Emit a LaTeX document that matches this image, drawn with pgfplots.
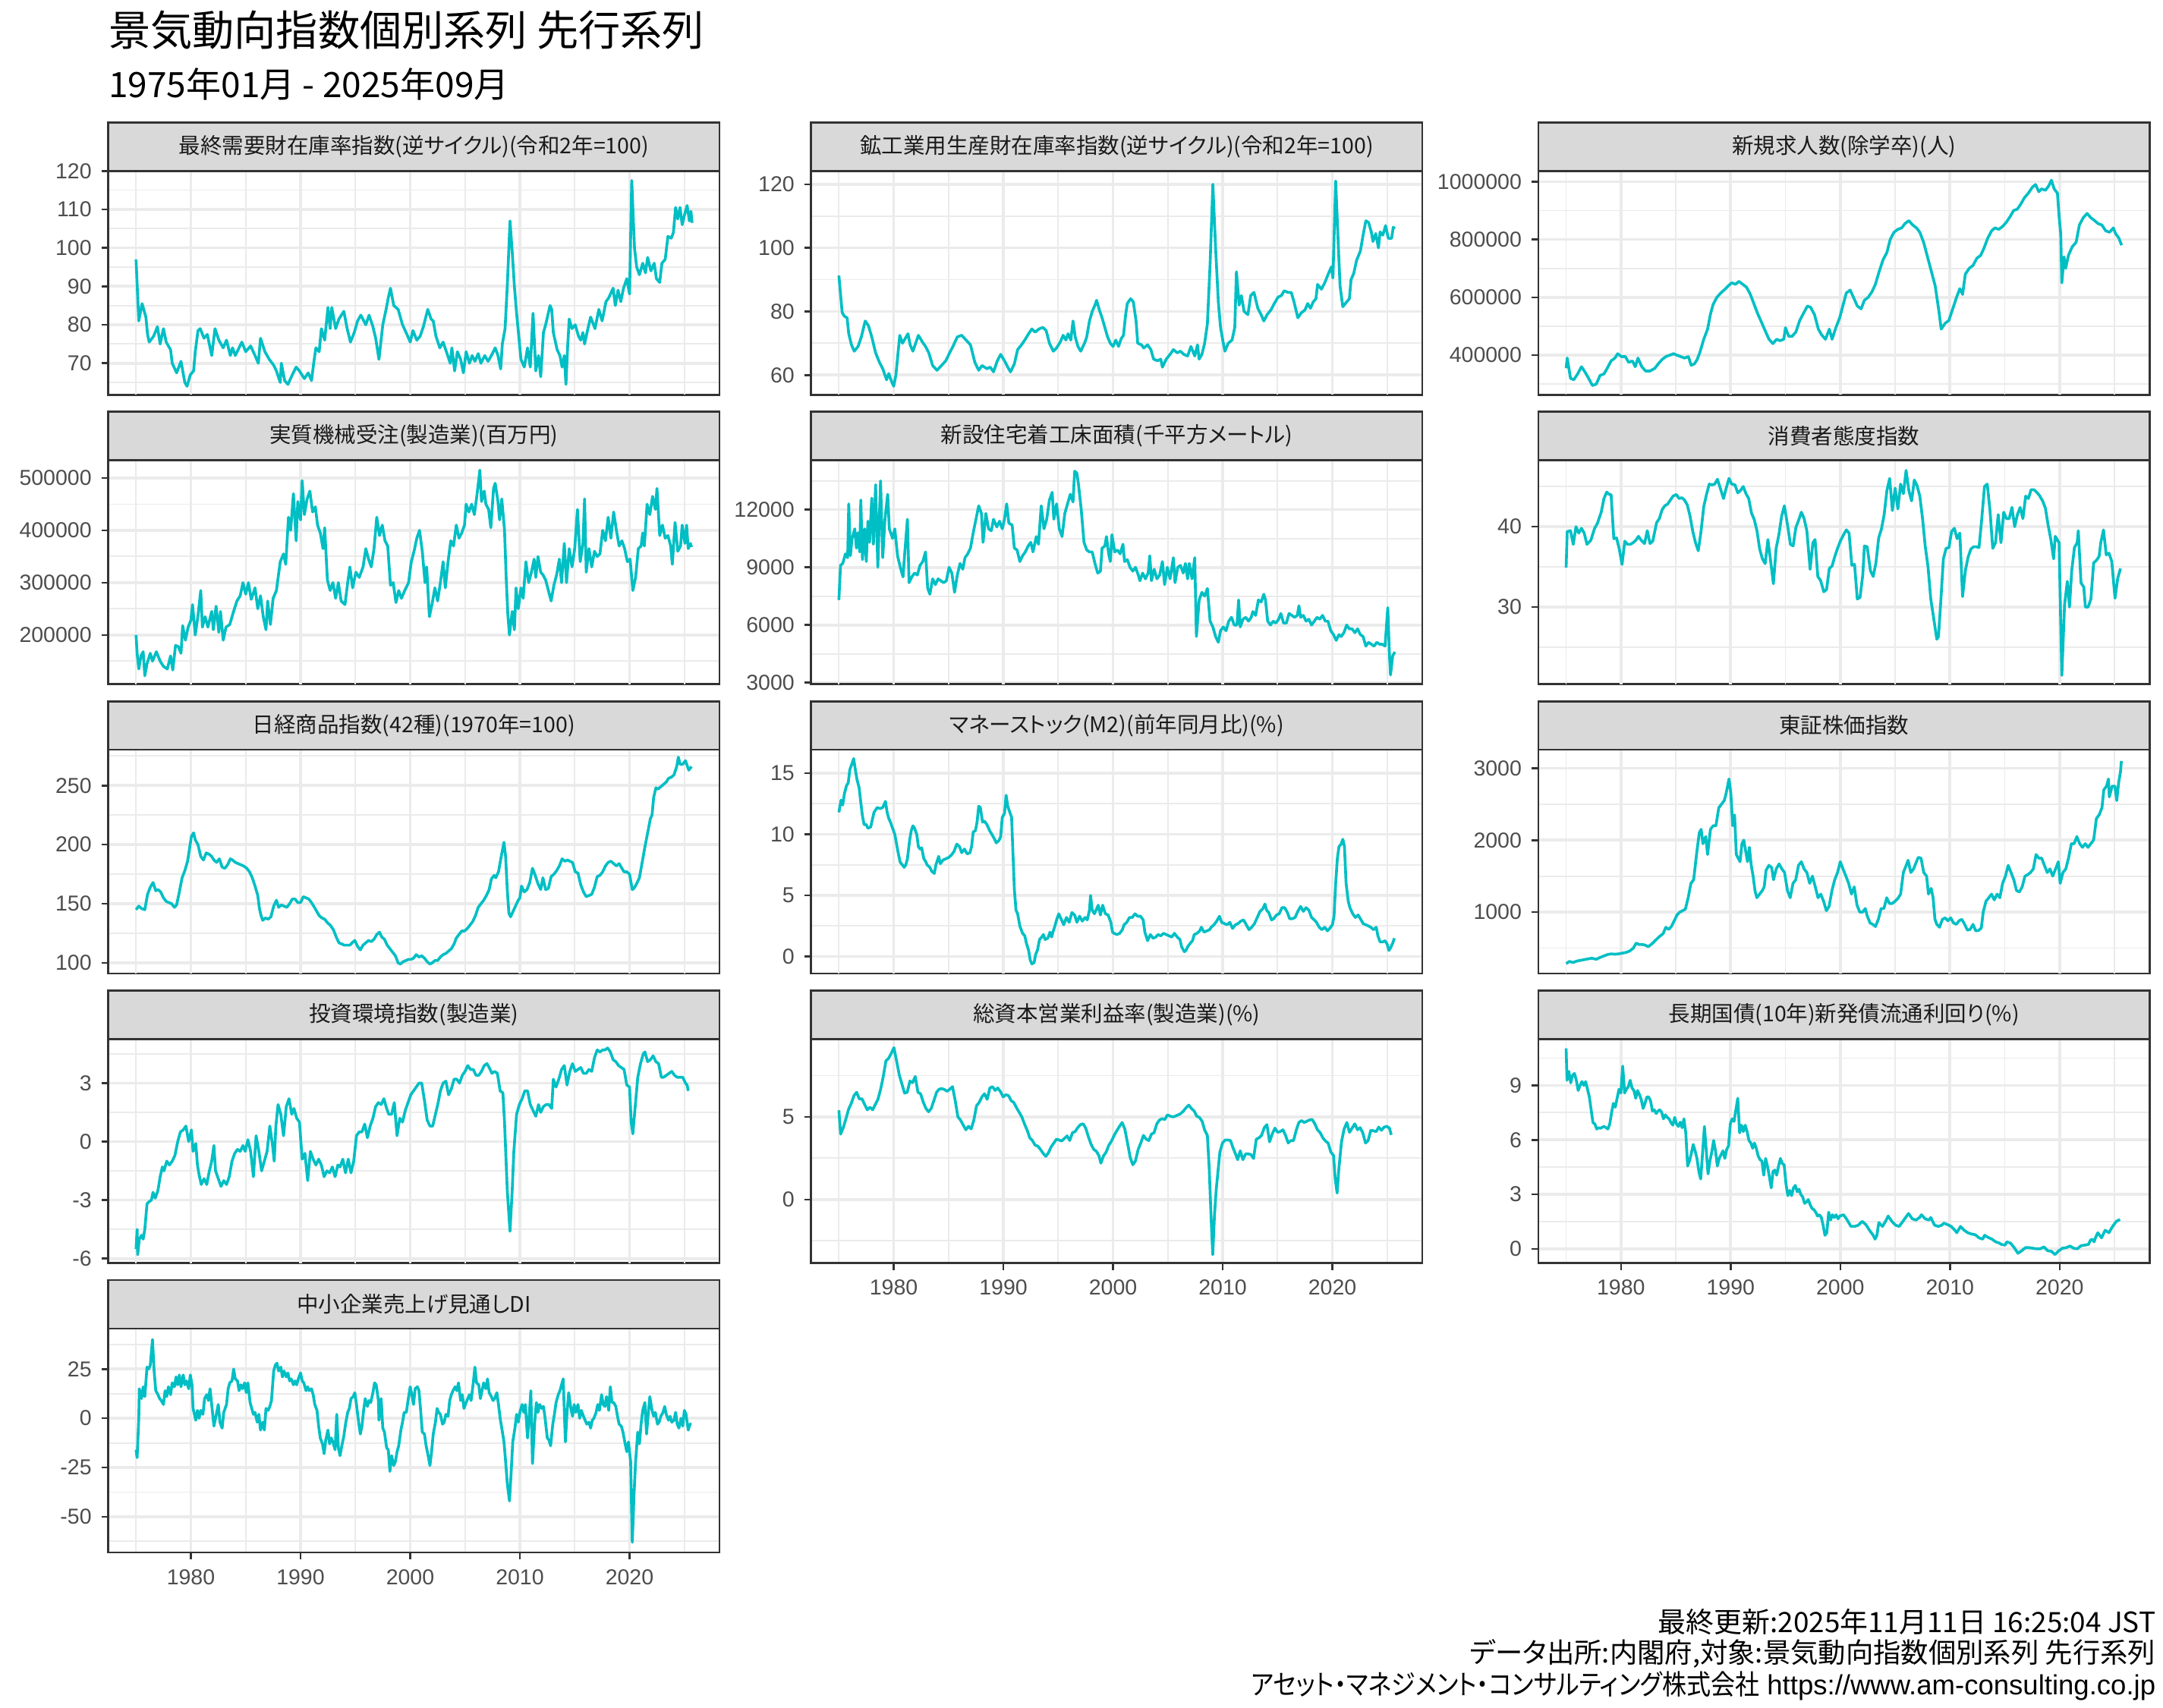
\documentclass[border=0pt]{standalone}
\usepackage{fontspec}
\setmainfont{Liberation Sans}
\newfontfamily\cjk[RawFeature=+palt]{Noto Sans CJK JP}
\usepackage{pgfplots}
\pgfplotsset{compat=1.18}
\definecolor{lc}{HTML}{00BFC4}
\definecolor{grey92}{HTML}{EBEBEB}
\definecolor{grey85}{HTML}{D9D9D9}
\definecolor{grey20}{HTML}{333333}
\definecolor{grey30}{HTML}{4D4D4D}
\definecolor{grey10}{HTML}{1A1A1A}
\newcommand\tickfont{\fontsize{7.8}{9}\selectfont}
\pgfplotsset{
 panel/.style={
  scale only axis, width=220.4pt, height=80.75pt, anchor=south west,
  xmin=1972.47, xmax=2028.2,
  axis line style={draw=grey20, line width=0.7pt},
  tick style={draw=grey20, line width=0.7pt},
  tick align=outside, major tick length=2.5pt, minor tick length=0pt,
  xtick={1980,1990,2000,2010,2020},
  xticklabels={1980,1990,2000,2010,2020},
  minor xtick={1975,1985,1995,2005,2015,2025},
  grid=both,
  major grid style={draw=grey92, line width=1pt},
  minor grid style={draw=grey92, line width=0.5pt},
  tick pos=left,
  scaled ticks=false,
  ticklabel style={font=\tickfont, text=grey30},
  /pgf/number format/assume math mode=true,
  no markers,
 },
 notx/.style={xtick=\empty, minor xtick={}},
 ln/.style={draw=lc, line width=1.0pt, line join=round},
}
% vertical grid lines for panels that carry no x ticks
\newcommand\vgrid{%
  \pgfplotsinvokeforeach{1975,1985,1995,2005,2015,2025}{\draw[grey92, line width=0.5pt] ({axis cs:##1,0} |- {rel axis cs:0,0}) -- ({axis cs:##1,0} |- {rel axis cs:0,1});}%
  \pgfplotsinvokeforeach{1980,1990,2000,2010,2020}{\draw[grey92, line width=1pt] ({axis cs:##1,0} |- {rel axis cs:0,0}) -- ({axis cs:##1,0} |- {rel axis cs:0,1});}}
\newcommand\strip[3]{%
  \draw[fill=grey85, draw=grey20, line width=0.7pt] ({#1},{#2+80.75pt}) rectangle ({#1+220.4pt},{#2+98.25pt});%
  \node[font=\cjk\tickfont, text=grey10, inner sep=0pt] at ({#1+110.2pt},{#2+89.5pt}) {#3};}
\begin{document}
\begin{tikzpicture}
\path[use as bounding box] (0,0) rectangle (780pt,616pt);
\node[anchor=west, inner sep=0pt, font=\cjk\fontsize{15.1}{17}\selectfont] at (39pt,605pt) {景気動向指数個別系列 先行系列};
\node[anchor=west, inner sep=0pt, font=\cjk\fontsize{12.6}{15}\selectfont] at (39pt,585.5pt) {1975年01月 - 2025年09月};
\node[anchor=east, inner sep=0pt, font=\cjk\fontsize{10.1}{12}\selectfont] at (777.5pt,31pt) {最終更新:2025年11月11日 16:25:04 JST};
\node[anchor=east, inner sep=0pt, font=\cjk\fontsize{9.95}{12}\selectfont] at (777.5pt,19.5pt) {データ出所:内閣府,対象:景気動向指数個別系列 先行系列};
\node[anchor=east, inner sep=0pt, font=\fontsize{10}{12}\selectfont] at (777.5pt,8pt) {{\cjk\scalebox{0.876}[1]{アセット・マネジメント・コンサルティング株式会社}} https://www.am-consulting.co.jp};

% ---------- Panel 1
\begin{axis}[panel, notx, at={(39.05pt,473.6pt)}, ymin=61.8, ymax=120,
 ytick={70,80,90,100,110,120}, yticklabels={70,80,90,100,110,120}, minor ytick={65,75,85,95,105,115}]
\vgrid
\addplot[ln] coordinates {(1975.0,97) (1975.25,81) (1975.55,85.5) (1975.9,82) (1976.05,77.5) (1976.2,75.5) (1976.6,77) (1976.95,79.5) (1977.2,75) (1977.5,79) (1977.75,75.5) (1978.15,73.5) (1978.3,70) (1978.7,67.5) (1979.1,70.5) (1979.45,65) (1979.65,64) (1979.95,67) (1980.25,68) (1980.4,73) (1980.65,78.5) (1980.85,79) (1981.2,76.5) (1981.5,77.5) (1981.9,72) (1982.2,79) (1982.55,76) (1982.95,74) (1983.25,76) (1983.6,72) (1983.8,74) (1984.05,72) (1984.65,75.5) (1985.0,73) (1985.45,74.5) (1985.85,72) (1986.15,70) (1986.35,76.5) (1986.75,73) (1987.15,71) (1987.55,69.5) (1987.8,68) (1988.15,65) (1988.25,70) (1988.55,65.5) (1988.85,64.5) (1989.25,67) (1989.6,69) (1989.9,68) (1990.35,66) (1990.7,67.5) (1991.0,65.5) (1991.2,70) (1991.4,74) (1991.7,73) (1991.9,79) (1992.2,76) (1992.5,84.5) (1992.7,79) (1992.85,84.5) (1993.2,79) (1993.5,81.5) (1993.95,83.5) (1994.25,79) (1994.55,75.5) (1994.9,78) (1995.2,81) (1995.5,82.5) (1995.95,80) (1996.25,82.5) (1996.6,79.5) (1996.85,76.5) (1997.15,71) (1997.5,80) (1997.8,84) (1998.0,87) (1998.2,89.5) (1998.5,85) (1998.9,84) (1999.3,80) (1999.7,77.5) (2000.0,75.5) (2000.25,78.5) (2000.6,76) (2000.9,77) (2001.2,79.5) (2001.6,84) (2001.9,81.5) (2002.1,81) (2002.35,77) (2002.7,74) (2003.0,75.5) (2003.3,73) (2003.65,70) (2003.8,74) (2004.05,68) (2004.3,73) (2004.6,71) (2004.85,67.5) (2005.1,73) (2005.4,70) (2005.65,72) (2005.9,70.5) (2006.2,72.5) (2006.45,70) (2006.8,72) (2007.1,70.5) (2007.4,72) (2007.75,74) (2008.0,72) (2008.25,68.5) (2008.4,75) (2008.65,79) (2008.85,90) (2009.1,107) (2009.3,99) (2009.5,90) (2009.7,83) (2009.9,77) (2010.1,71) (2010.4,69) (2010.7,74) (2010.95,69) (2011.2,83) (2011.45,68) (2011.7,72) (2011.9,66.5) (2012.15,78) (2012.35,80) (2012.75,85) (2012.9,84) (2013.05,78) (2013.4,73.5) (2013.65,72) (2013.85,69) (2014.05,72) (2014.2,64.5) (2014.35,74) (2014.5,81.5) (2014.75,79) (2015.05,80) (2015.35,77) (2015.55,76) (2015.75,78) (2015.9,75) (2016.2,79) (2016.45,82) (2016.85,79) (2017.2,84) (2017.5,81) (2017.85,86) (2018.1,87) (2018.5,89.5) (2018.7,85) (2018.95,89) (2019.2,86) (2019.45,89.5) (2019.75,92) (2020.0,88) (2020.2,117.5) (2020.45,100) (2020.65,95) (2020.9,93) (2021.2,96) (2021.45,93.5) (2021.65,97.5) (2021.95,94) (2022.25,96) (2022.45,92) (2022.75,91) (2022.95,96) (2023.25,97) (2023.5,103) (2023.8,102.5) (2024.0,104) (2024.2,110.5) (2024.4,107.5) (2024.6,110.5) (2024.8,106) (2025.05,109) (2025.25,111) (2025.45,107) (2025.6,109.5) (2025.7,106.5)};
\end{axis}
\strip{39.05pt}{473.6pt}{最終需要財在庫率指数(逆サイクル)(令和2年=100)}

% ---------- Panel 2
\begin{axis}[panel, notx, at={(292.5pt,473.6pt)}, ymin=53.8, ymax=124.2,
 ytick={60,80,100,120}, yticklabels={60,80,100,120}, minor ytick={70,90,110}]
\vgrid
\addplot[ln] coordinates {(1975.0,91.3) (1975.3,79.7) (1975.5,78.5) (1975.75,78) (1975.9,73) (1976.15,69.5) (1976.4,67.5) (1976.75,69) (1977.05,72) (1977.4,77) (1977.7,75.5) (1978.0,72) (1978.35,67) (1978.7,64) (1979.0,62) (1979.35,58.5) (1979.55,60.5) (1979.8,58) (1980.0,56.5) (1980.2,60) (1980.55,72.5) (1980.8,70) (1981.05,71.5) (1981.3,73) (1981.5,69.5) (1981.75,67.5) (1982.0,70) (1982.25,72.5) (1982.6,70.5) (1982.9,69) (1983.2,67) (1983.55,63) (1983.95,61.5) (1984.35,63) (1984.75,64.5) (1985.1,67) (1985.4,69) (1985.8,72) (1986.2,72.5) (1986.6,71) (1987.0,69.5) (1987.4,64) (1987.75,61.5) (1988.05,63) (1988.5,62) (1988.8,62.5) (1989.1,61) (1989.45,64.5) (1989.75,66.5) (1990.1,64.5) (1990.4,62.5) (1990.65,61) (1991.0,63.5) (1991.3,68) (1991.65,69.5) (1991.95,71) (1992.3,73) (1992.6,74.5) (1992.9,73.5) (1993.25,74.5) (1993.6,75) (1993.9,74) (1994.2,70) (1994.55,67.5) (1994.85,68.5) (1995.2,70.5) (1995.45,72.5) (1995.7,71) (1995.9,73) (1996.15,71) (1996.35,77) (1996.55,72) (1996.8,69) (1997.05,67.5) (1997.4,70) (1997.6,72) (1997.85,77) (1998.1,80) (1998.35,82) (1998.5,83.5) (1998.75,80.5) (1999.0,78) (1999.25,75) (1999.5,72) (1999.75,70) (2000.0,69) (2000.25,71) (2000.5,69) (2000.75,71.5) (2000.95,72.5) (2001.15,79) (2001.3,82.5) (2001.6,84) (2001.85,83) (2002.1,77) (2002.25,70) (2002.6,69.5) (2002.8,68.5) (2003.15,69.5) (2003.45,68) (2003.7,65) (2004.05,64.5) (2004.35,65) (2004.5,62.5) (2004.85,65) (2005.2,66.5) (2005.5,68) (2005.85,67) (2006.15,67.5) (2006.45,66.5) (2006.8,66) (2007.1,69) (2007.45,66) (2007.7,69.5) (2007.85,65) (2008.1,66.5) (2008.35,70) (2008.6,76) (2008.85,95) (2009.1,120) (2009.35,100) (2009.6,83) (2009.8,75) (2010.0,71) (2010.2,67.5) (2010.5,70) (2010.85,71) (2011.1,75) (2011.25,92.5) (2011.5,82) (2011.7,85) (2011.95,80) (2012.3,79) (2012.55,85) (2012.85,86) (2013.2,81) (2013.5,79) (2013.75,77) (2014.05,79) (2014.4,80.5) (2014.7,82.5) (2015.05,84.5) (2015.35,85) (2015.6,86.5) (2015.95,86) (2016.25,86) (2016.5,83) (2016.85,78) (2017.15,79.5) (2017.5,80.5) (2017.75,82.5) (2018.0,81) (2018.25,83) (2018.5,84) (2018.65,88.5) (2019.0,87) (2019.3,89) (2019.65,92) (2019.9,94) (2020.05,90.5) (2020.3,121) (2020.55,100) (2020.7,88) (2020.95,81.5) (2021.3,83) (2021.55,84) (2021.7,90) (2021.95,92) (2022.2,96) (2022.55,99) (2022.8,104) (2023.05,108.5) (2023.3,108) (2023.55,105) (2023.7,102) (2023.95,104.5) (2024.2,100) (2024.35,105) (2024.6,104) (2024.85,107) (2025.1,103) (2025.4,103) (2025.55,106.5) (2025.7,106)};
\end{axis}
\strip{292.5pt}{473.6pt}{鉱工業用生産財在庫率指数(逆サイクル)(令和2年=100)}

% ---------- Panel 3
\begin{axis}[panel, notx, at={(554.75pt,473.6pt)}, ymin=263000, ymax=1037000,
 ytick={400000,600000,800000,1000000}, yticklabels={400000,600000,800000,1000000}, minor ytick={300000,500000,700000,900000}]
\vgrid
\addplot[ln] coordinates {(1975.0,355000) (1975.1,390000) (1975.4,320000) (1975.7,315000) (1976.05,335000) (1976.4,360000) (1976.75,340000) (1977.05,320000) (1977.4,295000) (1977.75,300000) (1978.1,330000) (1978.45,335000) (1978.75,355000) (1979.1,380000) (1979.45,390000) (1979.7,405000) (1980.05,395000) (1980.4,395000) (1980.7,375000) (1981.05,380000) (1981.3,360000) (1981.55,390000) (1981.9,360000) (1982.25,345000) (1982.65,345000) (1983.1,355000) (1983.4,370000) (1983.75,385000) (1984.1,395000) (1984.45,400000) (1984.8,405000) (1985.1,400000) (1985.45,395000) (1985.8,390000) (1986.15,395000) (1986.4,365000) (1986.7,370000) (1986.95,385000) (1987.2,410000) (1987.55,455000) (1987.9,490000) (1988.15,540000) (1988.4,575000) (1988.75,600000) (1989.1,615000) (1989.4,625000) (1989.8,640000) (1990.1,650000) (1990.45,645000) (1990.75,655000) (1991.1,645000) (1991.45,635000) (1991.8,610000) (1992.15,575000) (1992.45,545000) (1992.8,515000) (1993.2,480000) (1993.5,455000) (1993.85,440000) (1994.2,455000) (1994.5,450000) (1994.85,455000) (1995.0,495000) (1995.3,465000) (1995.6,465000) (1995.95,480000) (1996.3,520000) (1996.65,545000) (1997.0,570000) (1997.3,565000) (1997.65,540000) (1998.0,490000) (1998.3,470000) (1998.65,455000) (1999.0,490000) (1999.25,455000) (1999.6,495000) (1999.95,530000) (2000.3,580000) (2000.55,615000) (2000.9,625000) (2001.2,600000) (2001.55,570000) (2001.9,560000) (2002.2,590000) (2002.55,600000) (2002.9,620000) (2003.2,645000) (2003.55,690000) (2003.9,730000) (2004.25,755000) (2004.55,800000) (2004.9,825000) (2005.25,835000) (2005.6,840000) (2005.9,855000) (2006.25,865000) (2006.6,850000) (2006.95,840000) (2007.25,825000) (2007.6,790000) (2007.95,740000) (2008.3,690000) (2008.65,640000) (2009.0,550000) (2009.2,490000) (2009.55,510000) (2009.9,520000) (2010.25,560000) (2010.6,600000) (2010.9,630000) (2011.15,610000) (2011.4,680000) (2011.75,700000) (2012.1,710000) (2012.45,735000) (2012.8,745000) (2013.1,770000) (2013.45,805000) (2013.8,830000) (2014.1,840000) (2014.45,835000) (2014.8,845000) (2015.15,860000) (2015.5,880000) (2015.8,900000) (2016.15,905000) (2016.5,925000) (2016.8,945000) (2017.15,960000) (2017.5,980000) (2017.8,990000) (2018.1,965000) (2018.35,975000) (2018.7,970000) (2019.0,985000) (2019.25,1005000) (2019.5,975000) (2019.8,960000) (2019.95,880000) (2020.1,820000) (2020.2,650000) (2020.4,740000) (2020.55,700000) (2020.8,745000) (2021.15,775000) (2021.5,790000) (2021.8,850000) (2022.15,875000) (2022.5,890000) (2022.85,875000) (2023.2,865000) (2023.5,855000) (2023.85,850000) (2024.2,830000) (2024.55,825000) (2024.9,840000) (2025.1,820000) (2025.4,805000) (2025.65,780000)};
\end{axis}
\strip{554.75pt}{473.6pt}{新規求人数(除学卒)(人)}

% ---------- Panel 4
\begin{axis}[panel, notx, at={(39.05pt,369.2pt)}, ymin=105900, ymax=533700,
 ytick={200000,300000,400000,500000}, yticklabels={200000,300000,400000,500000}, minor ytick={150000,250000,350000,450000}]
\vgrid
\addplot[ln] coordinates {(1975.0,200000) (1975.1,165000) (1975.25,135000) (1975.45,160000) (1975.65,168000) (1975.8,122000) (1976.0,145000) (1976.3,165000) (1976.5,150000) (1976.85,168000) (1977.2,150000) (1977.5,140000) (1977.85,135000) (1978.15,160000) (1978.35,133000) (1978.6,180000) (1978.85,178000) (1979.1,165000) (1979.25,218000) (1979.5,190000) (1979.75,215000) (1980.0,228000) (1980.15,258000) (1980.4,200000) (1980.65,237000) (1980.9,285000) (1981.05,215000) (1981.3,235000) (1981.55,215000) (1981.9,245000) (1982.05,210000) (1982.3,255000) (1982.55,205000) (1982.7,245000) (1982.95,190000) (1983.2,215000) (1983.55,220000) (1983.85,242000) (1984.2,265000) (1984.5,275000) (1984.75,300000) (1985.0,278000) (1985.25,300000) (1985.5,268000) (1985.85,290000) (1986.1,250000) (1986.35,275000) (1986.6,235000) (1986.85,210000) (1987.0,265000) (1987.25,220000) (1987.5,270000) (1987.8,285000) (1988.15,340000) (1988.45,355000) (1988.65,335000) (1988.9,425000) (1989.1,400000) (1989.35,470000) (1989.6,380000) (1989.75,455000) (1990.0,420000) (1990.15,495000) (1990.35,430000) (1990.6,460000) (1990.85,475000) (1991.1,435000) (1991.35,445000) (1991.55,410000) (1991.8,395000) (1992.05,365000) (1992.2,405000) (1992.45,305000) (1992.7,285000) (1992.95,300000) (1993.2,270000) (1993.45,300000) (1993.7,265000) (1994.05,258000) (1994.3,300000) (1994.5,330000) (1994.75,290000) (1995.05,320000) (1995.35,310000) (1995.7,330000) (1995.95,365000) (1996.2,345000) (1996.45,330000) (1996.7,365000) (1996.95,425000) (1997.2,390000) (1997.45,410000) (1997.7,380000) (1997.95,370000) (1998.2,295000) (1998.45,300000) (1998.7,262000) (1998.95,285000) (1999.2,270000) (1999.5,285000) (1999.85,300000) (2000.1,340000) (2000.35,360000) (2000.6,385000) (2000.85,400000) (2001.1,360000) (2001.35,300000) (2001.5,330000) (2001.75,235000) (2002.0,260000) (2002.25,290000) (2002.5,265000) (2002.75,300000) (2003.0,340000) (2003.2,290000) (2003.45,340000) (2003.7,380000) (2003.95,370000) (2004.2,410000) (2004.45,385000) (2004.7,395000) (2004.95,410000) (2005.1,450000) (2005.35,435000) (2005.6,450000) (2005.85,430000) (2006.1,470000) (2006.35,515000) (2006.5,455000) (2006.75,475000) (2006.9,450000) (2007.15,440000) (2007.35,405000) (2007.6,480000) (2007.75,490000) (2008.0,455000) (2008.15,420000) (2008.35,460000) (2008.6,400000) (2008.75,310000) (2008.9,240000) (2009.05,200000) (2009.3,245000) (2009.5,210000) (2009.65,290000) (2009.85,250000) (2010.1,290000) (2010.3,270000) (2010.55,340000) (2010.8,300000) (2011.05,320000) (2011.3,345000) (2011.45,310000) (2011.65,350000) (2011.9,320000) (2012.1,315000) (2012.35,305000) (2012.6,285000) (2012.85,265000) (2013.1,295000) (2013.35,315000) (2013.6,345000) (2013.8,300000) (2014.05,375000) (2014.25,300000) (2014.5,365000) (2014.75,330000) (2015.0,365000) (2015.25,440000) (2015.5,340000) (2015.75,375000) (2015.9,460000) (2016.05,320000) (2016.3,365000) (2016.55,330000) (2016.8,360000) (2017.05,350000) (2017.3,355000) (2017.55,400000) (2017.8,380000) (2018.05,425000) (2018.3,385000) (2018.55,435000) (2018.8,400000) (2019.05,370000) (2019.3,380000) (2019.55,365000) (2019.8,340000) (2020.05,345000) (2020.3,285000) (2020.55,310000) (2020.8,365000) (2021.05,370000) (2021.2,395000) (2021.35,370000) (2021.6,450000) (2021.85,430000) (2022.1,465000) (2022.35,440000) (2022.5,480000) (2022.75,390000) (2023.0,410000) (2023.25,385000) (2023.5,390000) (2023.75,370000) (2023.9,335000) (2024.15,415000) (2024.4,360000) (2024.65,370000) (2024.8,410000) (2025.05,375000) (2025.2,410000) (2025.35,365000) (2025.55,375000) (2025.65,368000)};
\end{axis}
\strip{39.05pt}{369.2pt}{実質機械受注(製造業)(百万円)}

% ---------- Panel 5
\begin{axis}[panel, notx, at={(292.5pt,369.2pt)}, ymin=2920, ymax=14563,
 ytick={3000,6000,9000,12000}, yticklabels={3000,6000,9000,12000}, minor ytick={4500,7500,10500,13500}]
\vgrid
\addplot[ln] coordinates {(1975.0,7300) (1975.15,9100) (1975.35,9200) (1975.6,9700) (1975.8,9500) (1975.9,12300) (1976.05,9600) (1976.2,10500) (1976.45,11000) (1976.6,10000) (1976.75,10800) (1976.9,9800) (1977.0,12500) (1977.15,9400) (1977.35,11000) (1977.5,9300) (1977.65,11400) (1977.8,10300) (1978.0,12600) (1978.15,10200) (1978.35,13300) (1978.55,9000) (1978.8,13500) (1979.0,9500) (1979.2,11500) (1979.45,12800) (1979.6,11000) (1979.9,10500) (1980.1,11000) (1980.35,9600) (1980.6,9000) (1980.85,8500) (1981.0,9700) (1981.25,11500) (1981.4,8200) (1981.65,8500) (1981.9,8700) (1982.15,8600) (1982.4,9100) (1982.65,9300) (1982.9,9800) (1983.1,7900) (1983.3,7600) (1983.55,8400) (1983.8,8100) (1984.05,8400) (1984.3,8300) (1984.55,8200) (1984.8,8300) (1985.05,9000) (1985.3,8700) (1985.55,7700) (1985.8,8600) (1986.05,9200) (1986.3,8900) (1986.5,9500) (1986.75,9700) (1987.0,10000) (1987.25,10800) (1987.5,11500) (1987.75,12200) (1988.0,11800) (1988.15,10300) (1988.4,11800) (1988.65,11000) (1988.9,10900) (1989.1,11500) (1989.4,11100) (1989.65,11400) (1989.9,11000) (1990.1,11500) (1990.3,12300) (1990.5,11300) (1990.8,11200) (1991.0,10000) (1991.25,9900) (1991.5,9300) (1991.75,9600) (1992.0,9800) (1992.25,10100) (1992.5,10300) (1992.7,9800) (1993.0,10600) (1993.2,10200) (1993.45,12200) (1993.7,11000) (1993.95,11500) (1994.2,12500) (1994.45,12900) (1994.6,11500) (1994.85,12300) (1995.1,11000) (1995.35,10600) (1995.6,11800) (1995.85,12300) (1996.1,12800) (1996.35,12400) (1996.5,14000) (1996.7,13900) (1996.85,13300) (1997.1,12000) (1997.35,10300) (1997.6,9900) (1997.85,9800) (1998.1,9800) (1998.35,9200) (1998.6,8700) (1998.85,8800) (1999.0,10000) (1999.25,10100) (1999.4,10600) (1999.6,9700) (1999.75,9300) (1999.9,10700) (2000.15,9800) (2000.4,9900) (2000.65,9700) (2000.9,10200) (2001.05,9300) (2001.3,9400) (2001.55,9000) (2001.8,8800) (2002.05,9000) (2002.3,8600) (2002.45,8300) (2002.7,8700) (2002.95,8400) (2003.2,8700) (2003.35,9600) (2003.5,8300) (2003.75,8900) (2004.0,8400) (2004.25,8600) (2004.5,9300) (2004.7,8100) (2004.95,9000) (2005.2,8400) (2005.5,9500) (2005.65,8200) (2005.9,9000) (2006.15,9100) (2006.4,8700) (2006.6,9200) (2006.8,8400) (2006.95,9200) (2007.2,8400) (2007.45,9500) (2007.6,5400) (2007.85,7300) (2008.1,7700) (2008.35,7500) (2008.6,7900) (2008.85,6200) (2009.1,5900) (2009.35,5400) (2009.6,5100) (2009.8,5700) (2010.05,5900) (2010.3,5700) (2010.55,6200) (2010.8,6400) (2011.05,6000) (2011.3,6000) (2011.45,7300) (2011.6,5900) (2011.85,6300) (2012.1,6400) (2012.35,6200) (2012.6,6400) (2012.75,6700) (2013.0,6500) (2013.25,7300) (2013.5,7200) (2013.75,7600) (2013.9,7300) (2014.1,6200) (2014.35,6000) (2014.6,6200) (2014.85,6100) (2015.1,6300) (2015.3,6600) (2015.55,6100) (2015.8,6100) (2016.05,6600) (2016.3,6500) (2016.55,6400) (2016.8,6500) (2016.95,7000) (2017.1,6400) (2017.35,6500) (2017.6,6200) (2017.85,6300) (2018.1,6000) (2018.35,6200) (2018.6,6400) (2018.85,6300) (2019.1,6500) (2019.35,6200) (2019.6,6200) (2019.85,5700) (2020.1,5500) (2020.35,5200) (2020.6,5500) (2020.8,5400) (2021.05,5600) (2021.3,6000) (2021.55,5800) (2021.8,5800) (2022.05,5600) (2022.3,5800) (2022.55,5500) (2022.8,5400) (2023.05,4900) (2023.3,5100) (2023.55,5000) (2023.8,4900) (2024.05,5100) (2024.3,5000) (2024.55,5000) (2024.8,4900) (2025.05,6900) (2025.2,4500) (2025.3,3400) (2025.5,4400) (2025.7,4600)};
\end{axis}
\strip{292.5pt}{369.2pt}{新設住宅着工床面積(千平方メートル)}

% ---------- Panel 6
\begin{axis}[panel, notx, at={(554.75pt,369.2pt)}, ymin=20.4, ymax=48.25,
 ytick={30,40}, yticklabels={30,40}, minor ytick={25,35,45}]
\vgrid
\addplot[ln] coordinates {(1975.0,34.9) (1975.1,39.4) (1975.4,39.5) (1975.65,37.8) (1975.9,40) (1976.15,39.2) (1976.4,39.8) (1976.65,39.2) (1976.9,37.8) (1977.25,38.3) (1977.6,39.8) (1977.85,40.4) (1978.2,41.8) (1978.45,43.5) (1978.7,44.3) (1978.95,44.0) (1979.1,44.0) (1979.35,38.5) (1979.6,38.6) (1979.85,37.2) (1980.1,35.3) (1980.35,38.2) (1980.6,37.8) (1980.85,37.8) (1981.1,38.0) (1981.35,38.3) (1981.6,38.8) (1981.85,38.3) (1982.15,37.9) (1982.4,39.5) (1982.65,37.9) (1982.9,38.2) (1983.25,40.5) (1983.5,41.0) (1983.75,42.1) (1984.0,42.6) (1984.25,42.8) (1984.5,43.3) (1984.75,43.8) (1985.05,44.0) (1985.3,43.5) (1985.55,43.6) (1985.8,43.3) (1986.05,42.7) (1986.3,41.3) (1986.55,39.4) (1986.8,38.0) (1987.05,37.0) (1987.3,39.4) (1987.55,42.5) (1987.8,44.0) (1988.05,45.3) (1988.3,45.2) (1988.55,45.3) (1988.8,45.9) (1989.1,44.6) (1989.35,43.5) (1989.6,44.8) (1989.85,46.0) (1990.1,45.3) (1990.4,45.2) (1990.65,44.2) (1990.9,44.5) (1991.15,45.0) (1991.4,44.1) (1991.65,43.5) (1991.9,41.7) (1992.15,40.9) (1992.4,39.5) (1992.65,37.2) (1992.9,36.0) (1993.15,35.4) (1993.4,38.4) (1993.65,35.7) (1993.9,32.9) (1994.15,37.3) (1994.4,39.0) (1994.65,41.3) (1994.9,42.6) (1995.2,40.1) (1995.45,37.8) (1995.7,37.6) (1995.95,39.9) (1996.2,40.8) (1996.45,41.8) (1996.7,41.0) (1996.95,39.5) (1997.25,34.7) (1997.5,38.0) (1997.7,38.4) (1997.95,33.8) (1998.2,33.3) (1998.5,31.9) (1998.75,32.2) (1999.0,34.8) (1999.25,35.1) (1999.5,36.3) (1999.75,37.3) (2000.0,38.2) (2000.3,39.0) (2000.55,39.6) (2000.8,39.2) (2001.05,35.2) (2001.3,35.3) (2001.55,31.0) (2001.8,31.2) (2002.05,34.0) (2002.2,37.6) (2002.45,37.5) (2002.75,34.5) (2003.0,33.8) (2003.25,35.5) (2003.5,38.6) (2003.75,39.7) (2004.0,41.5) (2004.25,44.5) (2004.5,46.0) (2004.75,42.0) (2005.0,44.8) (2005.25,42.2) (2005.5,45.3) (2005.75,44.1) (2006.0,47.0) (2006.25,44.5) (2006.5,43.2) (2006.75,45.8) (2007.0,45.1) (2007.25,43.8) (2007.5,41.0) (2007.75,37.5) (2008.0,35.0) (2008.25,31.0) (2008.55,28.3) (2008.8,26.0) (2008.95,26.3) (2009.15,30.4) (2009.4,36.0) (2009.65,37.3) (2009.9,37.4) (2010.15,39.4) (2010.4,39.8) (2010.65,38.5) (2010.9,39.2) (2011.15,31.3) (2011.4,34.5) (2011.65,36.2) (2011.9,37.2) (2012.15,37.5) (2012.4,37.5) (2012.65,37.4) (2012.9,41.0) (2013.15,45.0) (2013.4,45.3) (2013.65,42.0) (2013.9,37.3) (2014.15,38.0) (2014.4,41.5) (2014.65,38.0) (2014.9,41.8) (2015.15,41.0) (2015.4,41.0) (2015.65,42.4) (2015.9,40.0) (2016.15,41.5) (2016.4,42.4) (2016.65,41.0) (2016.9,43.8) (2017.15,43.5) (2017.4,44.6) (2017.65,44.6) (2017.9,44.3) (2018.15,43.9) (2018.45,43.2) (2018.7,42.3) (2018.95,40.2) (2019.2,38.4) (2019.45,36.0) (2019.6,38.8) (2019.95,38.0) (2020.2,21.5) (2020.45,30.3) (2020.7,33.2) (2020.9,30.0) (2021.1,34.5) (2021.35,37.4) (2021.6,38.0) (2021.7,39.5) (2021.95,33.0) (2022.2,32.5) (2022.35,30.0) (2022.6,30.0) (2022.85,31.0) (2023.1,35.5) (2023.35,35.8) (2023.6,36.3) (2023.75,38.0) (2024.0,39.6) (2024.25,36.5) (2024.5,36.7) (2024.75,35.7) (2025.05,31.1) (2025.3,33.6) (2025.55,34.8)};
\end{axis}
\strip{554.75pt}{369.2pt}{消費者態度指数}

% ---------- Panel 7
\begin{axis}[panel, notx, at={(39.05pt,264.8pt)}, ymin=90.9, ymax=280.2,
 ytick={100,150,200,250}, yticklabels={100,150,200,250}, minor ytick={125,175,225,275}]
\vgrid
\addplot[ln] coordinates {(1975.0,145) (1975.25,148) (1975.5,146) (1975.8,145) (1976.05,158) (1976.3,164) (1976.55,168) (1976.8,161) (1977.0,162) (1977.25,160) (1977.5,155) (1977.75,152) (1978.0,151) (1978.25,150) (1978.5,147) (1978.7,149) (1978.95,160) (1979.2,172) (1979.45,178) (1979.7,186) (1979.9,198) (1980.05,207) (1980.25,210) (1980.4,204) (1980.65,200) (1980.9,190) (1981.15,187) (1981.4,193) (1981.65,192) (1981.9,190) (1982.1,187) (1982.35,185) (1982.6,188) (1982.85,181) (1983.1,180) (1983.35,183) (1983.6,188) (1983.8,187) (1984.05,185) (1984.3,184) (1984.55,183) (1984.8,182) (1985.1,180) (1985.35,177) (1985.6,172) (1985.85,165) (1986.1,157) (1986.25,146) (1986.4,140) (1986.55,136) (1986.8,138) (1987.05,137) (1987.3,139) (1987.55,148) (1987.8,153) (1988.0,147) (1988.25,149) (1988.5,148) (1988.75,147) (1989.0,150) (1989.25,154) (1989.5,154) (1989.75,151) (1990.0,151) (1990.25,156) (1990.5,155) (1990.75,154) (1991.0,151) (1991.2,148) (1991.45,144) (1991.7,140) (1991.95,138) (1992.2,137) (1992.45,134) (1992.7,132) (1993.0,128) (1993.25,122) (1993.5,117) (1993.75,116) (1994.0,115) (1994.25,115) (1994.5,115) (1994.7,117) (1994.95,119) (1995.2,114) (1995.45,111) (1995.7,115) (1995.95,117) (1996.2,119) (1996.45,118) (1996.7,120) (1996.95,124) (1997.2,126) (1997.4,122) (1997.65,120) (1997.9,115) (1998.15,112) (1998.4,109) (1998.65,106) (1998.9,100) (1999.1,99) (1999.35,101) (1999.6,102) (1999.85,103) (2000.1,103) (2000.3,104) (2000.55,107) (2000.8,105) (2001.05,106) (2001.3,104) (2001.55,101) (2001.8,99) (2002.0,100) (2002.25,102) (2002.5,102) (2002.75,105) (2003.0,107) (2003.25,108) (2003.5,110) (2003.75,112) (2004.0,116) (2004.2,121) (2004.45,124) (2004.7,127) (2004.95,127) (2005.2,129) (2005.45,132) (2005.7,135) (2005.95,140) (2006.2,147) (2006.45,150) (2006.7,153) (2006.95,157) (2007.2,162) (2007.4,171) (2007.65,174) (2007.8,172) (2008.05,177) (2008.3,190) (2008.55,202) (2008.7,190) (2008.85,162) (2009.0,142) (2009.15,139) (2009.4,144) (2009.65,149) (2009.85,153) (2010.0,155) (2010.15,165) (2010.4,160) (2010.65,162) (2010.9,168) (2011.15,180) (2011.4,174) (2011.65,167) (2011.9,162) (2012.1,172) (2012.35,162) (2012.6,163) (2012.85,173) (2013.1,175) (2013.35,178) (2013.6,182) (2013.85,188) (2014.1,186) (2014.35,187) (2014.55,186) (2014.8,185) (2015.05,177) (2015.3,176) (2015.55,166) (2015.8,160) (2016.05,156) (2016.3,157) (2016.55,158) (2016.8,164) (2017.05,173) (2017.3,174) (2017.55,177) (2017.8,182) (2018.05,185) (2018.3,186) (2018.55,184) (2018.8,182) (2019.05,184) (2019.3,180) (2019.5,177) (2019.75,177) (2020.0,175) (2020.25,162) (2020.4,163) (2020.65,167) (2020.9,172) (2021.15,185) (2021.4,198) (2021.65,210) (2021.9,222) (2022.05,225) (2022.2,240) (2022.4,248) (2022.6,247) (2022.85,249) (2023.1,251) (2023.35,253) (2023.55,256) (2023.8,257) (2024.05,259) (2024.3,266) (2024.45,274) (2024.6,268) (2024.85,268) (2025.1,271) (2025.25,267) (2025.4,263) (2025.65,266)};
\end{axis}
\strip{39.05pt}{264.8pt}{日経商品指数(42種)(1970年=100)}

% ---------- Panel 8
\begin{axis}[panel, notx, at={(292.5pt,264.8pt)}, ymin=-1.4, ymax=16.92,
 ytick={0,5,10,15}, yticklabels={0,5,10,15}, minor ytick={2.5,7.5,12.5}]
\vgrid
\addplot[ln] coordinates {(1975.0,11.8) (1975.2,12.8) (1975.35,12.4) (1975.5,13.3) (1975.7,14.0) (1975.85,14.2) (1976.0,15.3) (1976.2,15.8) (1976.35,16.2) (1976.5,15.3) (1976.65,14.5) (1976.85,13.8) (1977.0,12.6) (1977.15,11.5) (1977.3,10.8) (1977.5,10.8) (1977.65,10.5) (1977.9,10.6) (1978.05,11.2) (1978.2,11.8) (1978.35,12.0) (1978.5,12.2) (1978.75,12.1) (1979.0,12.2) (1979.25,12.7) (1979.4,11.8) (1979.55,11.3) (1979.7,11.0) (1979.9,10.5) (1980.1,10.0) (1980.3,9.0) (1980.45,8.3) (1980.6,7.7) (1980.8,7.5) (1980.95,7.3) (1981.1,7.5) (1981.25,8.0) (1981.45,9.5) (1981.6,10.3) (1981.75,10.7) (1981.9,10.5) (1982.1,10.0) (1982.25,9.0) (1982.4,8.8) (1982.55,8.9) (1982.75,8.0) (1982.9,7.8) (1983.05,7.5) (1983.3,7.3) (1983.45,7.0) (1983.7,6.8) (1983.85,7.5) (1984.1,8.2) (1984.25,7.6) (1984.5,7.9) (1984.75,8.0) (1985.0,8.1) (1985.25,8.3) (1985.5,8.6) (1985.75,9.2) (1986.0,9.0) (1986.2,8.5) (1986.45,8.8) (1986.7,8.4) (1986.95,8.5) (1987.1,9.0) (1987.25,10.2) (1987.45,10.3) (1987.6,11.0) (1987.75,12.3) (1987.9,12.2) (1988.1,11.0) (1988.25,11.1) (1988.5,10.8) (1988.75,10.3) (1988.95,10.0) (1989.2,9.6) (1989.35,9.3) (1989.6,9.5) (1989.75,9.8) (1989.9,11.4) (1990.1,11.7) (1990.25,13.2) (1990.4,12.3) (1990.55,11.9) (1990.75,11.4) (1990.85,9.0) (1991.0,5.5) (1991.15,3.8) (1991.3,3.5) (1991.5,2.5) (1991.75,1.9) (1991.95,1.7) (1992.1,1.1) (1992.3,0.5) (1992.45,-0.3) (1992.6,-0.6) (1992.8,-0.5) (1992.95,0.2) (1993.1,0.5) (1993.3,1.4) (1993.5,1.6) (1993.65,1.8) (1993.8,1.4) (1994.05,1.5) (1994.25,2.0) (1994.4,1.6) (1994.55,2.1) (1994.7,2.5) (1994.85,3.0) (1995.05,3.5) (1995.3,3.0) (1995.5,2.6) (1995.75,3.2) (1996.0,2.8) (1996.25,3.6) (1996.5,3.4) (1996.7,2.8) (1996.95,3.3) (1997.2,2.9) (1997.45,3.2) (1997.65,3.0) (1997.85,3.8) (1997.95,5.0) (1998.1,3.8) (1998.3,3.5) (1998.45,3.8) (1998.65,4.2) (1998.85,3.4) (1999.05,4.2) (1999.3,3.5) (1999.55,3.4) (1999.8,2.8) (1999.95,2.0) (2000.1,1.9) (2000.35,1.8) (2000.6,1.9) (2000.85,2.2) (2001.0,2.6) (2001.25,2.8) (2001.5,3.2) (2001.75,3.2) (2002.0,3.5) (2002.25,3.3) (2002.5,3.3) (2002.75,3.0) (2002.9,2.0) (2003.15,1.3) (2003.4,1.8) (2003.65,1.5) (2003.9,1.6) (2004.1,1.8) (2004.35,1.7) (2004.6,1.9) (2004.85,1.8) (2005.1,1.7) (2005.35,1.6) (2005.6,1.9) (2005.85,1.6) (2006.1,1.4) (2006.25,0.8) (2006.5,0.4) (2006.65,0.5) (2006.8,0.8) (2007.05,1.1) (2007.25,1.3) (2007.4,1.8) (2007.65,1.9) (2007.9,2.1) (2008.05,2.4) (2008.3,2.0) (2008.55,2.1) (2008.8,2.2) (2008.95,2.4) (2009.2,2.6) (2009.45,2.9) (2009.7,3.3) (2009.9,2.8) (2010.15,2.7) (2010.4,2.6) (2010.65,2.8) (2010.9,2.3) (2011.15,2.6) (2011.4,2.7) (2011.65,2.9) (2011.9,3.0) (2012.15,2.6) (2012.4,2.2) (2012.65,2.4) (2012.9,2.7) (2013.15,3.2) (2013.4,3.7) (2013.65,3.9) (2013.85,4.3) (2014.0,3.8) (2014.2,3.6) (2014.45,3.0) (2014.65,3.1) (2014.9,3.4) (2015.15,3.5) (2015.4,4.0) (2015.65,4.0) (2015.9,3.6) (2016.1,3.1) (2016.35,3.1) (2016.6,3.2) (2016.85,3.7) (2017.1,4.1) (2017.35,3.7) (2017.6,4.0) (2017.85,3.8) (2018.1,3.2) (2018.35,3.0) (2018.55,2.8) (2018.8,2.4) (2019.05,2.2) (2019.3,2.4) (2019.55,2.1) (2019.75,2.3) (2020.0,2.6) (2020.15,3.3) (2020.3,6.0) (2020.45,8.0) (2020.6,9.0) (2020.8,9.2) (2020.95,9.6) (2021.1,9.0) (2021.25,6.0) (2021.45,4.5) (2021.6,4.0) (2021.85,3.5) (2022.1,3.2) (2022.35,3.4) (2022.55,3.1) (2022.8,2.7) (2023.05,2.6) (2023.3,2.5) (2023.5,2.4) (2023.75,2.2) (2024.0,2.4) (2024.15,1.7) (2024.35,1.2) (2024.6,1.2) (2024.8,1.3) (2025.0,1.0) (2025.15,0.5) (2025.3,0.7) (2025.5,1.1) (2025.65,1.5)};
\end{axis}
\strip{292.5pt}{264.8pt}{マネーストック(M2)(前年同月比)(\%)}

% ---------- Panel 9
\begin{axis}[panel, notx, at={(554.75pt,264.8pt)}, ymin=145, ymax=3255,
 ytick={1000,2000,3000}, yticklabels={1000,2000,3000}, minor ytick={500,1500,2500}]
\vgrid
\addplot[ln] coordinates {(1975.00,285) (1975.30,315) (1975.63,300) (1975.97,320) (1976.31,330) (1976.65,340) (1976.99,350) (1977.33,360) (1977.75,345) (1978.09,370) (1978.43,390) (1978.76,410) (1979.10,420) (1979.44,415) (1979.78,420) (1980.12,430) (1980.46,440) (1980.80,460) (1981.13,500) (1981.39,570) (1981.64,550) (1981.98,550) (1982.23,540) (1982.49,520) (1982.83,560) (1983.16,610) (1983.50,660) (1983.84,700) (1984.09,790) (1984.35,760) (1984.60,800) (1984.86,880) (1985.11,960) (1985.36,1000) (1985.62,1020) (1985.87,1040) (1986.13,1200) (1986.38,1400) (1986.63,1450) (1986.89,1800) (1987.14,2100) (1987.31,2150) (1987.48,1950) (1987.73,2050) (1987.90,1800) (1988.16,2150) (1988.41,2200) (1988.66,2200) (1988.92,2450) (1989.17,2500) (1989.42,2550) (1989.59,2650) (1989.85,2850) (1990.02,2650) (1990.19,2200) (1990.36,2350) (1990.52,1800) (1990.69,1750) (1990.86,1700) (1991.03,1950) (1991.20,2000) (1991.37,1850) (1991.54,1700) (1991.71,1900) (1991.88,1650) (1992.05,1500) (1992.22,1300) (1992.39,1200) (1992.64,1250) (1992.89,1300) (1993.06,1350) (1993.23,1580) (1993.49,1650) (1993.74,1620) (1993.91,1450) (1994.16,1600) (1994.42,1670) (1994.67,1600) (1994.92,1550) (1995.18,1300) (1995.43,1200) (1995.69,1400) (1995.94,1450) (1996.19,1650) (1996.45,1700) (1996.70,1600) (1996.95,1550) (1997.21,1400) (1997.46,1500) (1997.72,1350) (1997.97,1200) (1998.22,1250) (1998.48,1150) (1998.73,1020) (1998.98,1080) (1999.24,1300) (1999.49,1450) (1999.75,1550) (2000.00,1700) (2000.25,1600) (2000.51,1500) (2000.76,1400) (2001.02,1250) (2001.27,1350) (2001.52,1100) (2001.78,1000) (2002.03,1000) (2002.28,1050) (2002.45,950) (2002.71,850) (2002.96,830) (2003.21,800) (2003.47,900) (2003.72,1050) (2003.98,1050) (2004.23,1200) (2004.48,1120) (2004.74,1120) (2004.99,1150) (2005.25,1190) (2005.50,1250) (2005.75,1550) (2006.01,1650) (2006.18,1720) (2006.43,1550) (2006.68,1600) (2006.94,1700) (2007.11,1760) (2007.36,1750) (2007.61,1550) (2007.87,1500) (2008.04,1250) (2008.29,1330) (2008.46,1200) (2008.63,900) (2008.80,830) (2009.05,790) (2009.31,900) (2009.56,920) (2009.81,880) (2010.07,920) (2010.32,850) (2010.58,830) (2010.83,880) (2011.08,900) (2011.34,830) (2011.59,750) (2011.84,760) (2012.10,830) (2012.35,740) (2012.61,745) (2012.86,780) (2013.03,1000) (2013.28,1150) (2013.54,1200) (2013.79,1250) (2014.04,1170) (2014.30,1250) (2014.55,1200) (2014.80,1400) (2015.06,1500) (2015.31,1650) (2015.57,1550) (2015.82,1450) (2016.07,1300) (2016.33,1280) (2016.58,1350) (2016.84,1500) (2017.09,1520) (2017.34,1550) (2017.60,1600) (2017.85,1800) (2018.10,1750) (2018.36,1750) (2018.61,1650) (2018.87,1550) (2019.12,1600) (2019.37,1500) (2019.63,1600) (2019.88,1700) (2020.05,1400) (2020.30,1550) (2020.56,1600) (2020.81,1750) (2021.07,1950) (2021.32,1950) (2021.57,2050) (2021.83,1950) (2022.08,1900) (2022.34,1950) (2022.59,1900) (2022.84,1950) (2023.10,2000) (2023.35,2300) (2023.60,2350) (2023.86,2450) (2024.03,2700) (2024.28,2750) (2024.45,2850) (2024.53,2600) (2024.79,2750) (2025.04,2750) (2025.21,2550) (2025.38,2800) (2025.55,2950) (2025.63,3100)};
\end{axis}
\strip{554.75pt}{264.8pt}{東証株価指数}

% ---------- Panel 10
\begin{axis}[panel, notx, at={(39.05pt,160.4pt)}, ymin=-6.23, ymax=5.25,
 ytick={-6,-3,0,3}, yticklabels={-6,-3,0,3}, minor ytick={-4.5,-1.5,1.5,4.5}]
\vgrid
\addplot[ln] coordinates {(1975.0,-5.5) (1975.1,-4.5) (1975.15,-5.8) (1975.3,-5.0) (1975.5,-4.8) (1975.65,-5.0) (1975.8,-4.5) (1976.0,-3.2) (1976.15,-3.1) (1976.4,-3.0) (1976.55,-2.6) (1976.75,-2.9) (1977.0,-2.5) (1977.2,-1.8) (1977.4,-1.3) (1977.55,-1.5) (1977.8,-1.0) (1978.05,-1.2) (1978.3,-1.0) (1978.55,-0.7) (1978.8,0.0) (1979.05,0.5) (1979.3,0.6) (1979.55,0.8) (1979.8,0.0) (1980.05,0.6) (1980.2,-0.5) (1980.45,-0.1) (1980.6,-1.2) (1980.75,-1.7) (1980.95,-2.2) (1981.2,-1.9) (1981.45,-2.2) (1981.65,-1.6) (1981.9,-1.0) (1982.1,-0.2) (1982.25,-1.5) (1982.5,-1.9) (1982.75,-2.3) (1983.0,-2.0) (1983.25,-2.2) (1983.5,-1.8) (1983.75,-1.0) (1984.0,-0.6) (1984.25,-0.4) (1984.5,-0.5) (1984.75,-0.2) (1984.95,-0.5) (1985.2,0.1) (1985.45,-0.5) (1985.7,-1.8) (1985.95,0.3) (1986.2,-0.5) (1986.45,-1.5) (1986.7,-1.0) (1986.95,-0.5) (1987.2,0.8) (1987.45,-0.2) (1987.6,-1.0) (1987.75,0.8) (1987.95,1.9) (1988.2,1.4) (1988.45,0.3) (1988.7,1.8) (1988.95,2.2) (1989.2,1.4) (1989.4,1.7) (1989.65,1.2) (1989.9,1.0) (1990.15,-0.9) (1990.4,-0.6) (1990.65,-2.0) (1990.9,-0.5) (1991.15,-0.9) (1991.4,-1.2) (1991.65,-0.9) (1991.9,-1.2) (1992.15,-1.8) (1992.4,-1.5) (1992.65,-1.6) (1992.9,-1.3) (1993.15,-1.8) (1993.4,-1.2) (1993.6,-1.3) (1993.85,-0.9) (1994.1,-1.6) (1994.35,-0.9) (1994.6,-1.6) (1994.85,-1.0) (1995.1,0.3) (1995.35,0.5) (1995.6,0.5) (1995.85,0.9) (1996.1,0.2) (1996.35,0.8) (1996.6,1.2) (1996.85,1.8) (1997.1,2.0) (1997.35,1.9) (1997.6,2.2) (1997.85,1.7) (1998.05,1.4) (1998.3,1.4) (1998.55,2.0) (1998.8,0.3) (1999.05,1.2) (1999.3,1.0) (1999.55,1.6) (1999.8,2.0) (2000.05,2.4) (2000.3,2.6) (2000.55,2.8) (2000.8,3.0) (2001.05,3.0) (2001.3,2.1) (2001.55,1.1) (2001.8,0.8) (2002.05,0.8) (2002.3,1.4) (2002.55,2.0) (2002.75,2.6) (2003.0,3.0) (2003.25,3.1) (2003.5,2.4) (2003.75,2.7) (2004.0,3.2) (2004.25,3.2) (2004.5,3.0) (2004.75,3.4) (2005.0,3.6) (2005.25,3.9) (2005.5,3.7) (2005.75,3.7) (2006.0,3.4) (2006.25,3.4) (2006.5,3.6) (2006.75,3.9) (2007.0,4.0) (2007.2,3.8) (2007.45,3.5) (2007.7,3.6) (2007.95,3.5) (2008.2,2.6) (2008.45,2.5) (2008.6,1.0) (2008.85,-2.5) (2009.1,-4.6) (2009.3,-2.5) (2009.45,-0.5) (2009.7,1.4) (2009.95,1.9) (2010.2,2.2) (2010.45,2.6) (2010.7,2.6) (2010.95,1.9) (2011.2,1.6) (2011.45,1.3) (2011.7,1.9) (2011.9,1.5) (2012.15,1.8) (2012.4,1.9) (2012.65,1.9) (2012.9,1.7) (2013.05,3.2) (2013.3,2.8) (2013.55,3.2) (2013.8,3.7) (2014.05,3.9) (2014.3,2.9) (2014.55,3.6) (2014.8,4.0) (2015.05,3.6) (2015.3,3.7) (2015.55,3.8) (2015.8,3.5) (2016.05,3.5) (2016.3,3.7) (2016.55,3.6) (2016.8,4.3) (2017.05,4.7) (2017.3,4.6) (2017.55,4.7) (2017.75,4.7) (2018.0,4.8) (2018.25,4.6) (2018.5,4.2) (2018.75,4.1) (2019.0,3.9) (2019.25,3.8) (2019.5,3.7) (2019.75,2.9) (2020.0,2.8) (2020.15,1.0) (2020.3,0.4) (2020.5,1.7) (2020.75,3.3) (2021.0,4.0) (2021.25,4.5) (2021.4,4.6) (2021.65,4.1) (2021.9,4.2) (2022.15,4.4) (2022.4,4.1) (2022.65,4.0) (2022.9,3.3) (2023.1,3.3) (2023.35,3.4) (2023.6,3.5) (2023.85,3.6) (2024.1,3.4) (2024.35,3.3) (2024.6,3.3) (2024.85,3.3) (2025.1,3.0) (2025.25,2.9) (2025.35,2.6)};
\end{axis}
\strip{39.05pt}{160.4pt}{投資環境指数(製造業)}

% ---------- Panel 11
\begin{axis}[panel, at={(292.5pt,160.4pt)}, ymin=-3.85, ymax=9.7,
 ytick={0,5}, yticklabels={0,5}, minor ytick={-2.5,2.5,7.5}]
\addplot[ln] coordinates {(1975.00,5.4) (1975.16,3.96) (1975.40,4.35) (1975.65,4.9) (1975.89,5.47) (1976.13,5.82) (1976.38,6.29) (1976.62,6.49) (1976.86,6.09) (1977.11,6.09) (1977.35,5.75) (1977.59,5.43) (1977.83,5.59) (1978.08,5.43) (1978.32,5.75) (1978.56,6.06) (1978.81,6.68) (1979.05,7.45) (1979.29,8.39) (1979.53,8.54) (1979.78,8.85) (1980.02,9.19) (1980.26,8.39) (1980.51,7.53) (1980.75,6.99) (1980.99,6.44) (1981.23,6.49) (1981.48,7.17) (1981.72,7.07) (1981.96,7.45) (1982.21,6.49) (1982.45,6.4) (1982.69,5.9) (1982.94,5.51) (1983.18,5.31) (1983.42,5.51) (1983.66,5.98) (1983.91,6.49) (1984.15,6.68) (1984.39,6.71) (1984.64,6.65) (1984.88,6.55) (1985.12,6.68) (1985.36,6.83) (1985.61,5.98) (1985.85,5.0) (1986.09,4.81) (1986.34,4.5) (1986.58,4.22) (1986.82,4.43) (1987.06,4.27) (1987.31,4.81) (1987.55,5.67) (1987.79,5.87) (1988.04,6.21) (1988.28,6.4) (1988.52,6.06) (1988.77,6.75) (1989.01,6.83) (1989.25,6.6) (1989.49,6.75) (1989.74,6.52) (1989.98,6.21) (1990.22,6.34) (1990.47,6.29) (1990.71,5.98) (1990.95,5.87) (1991.19,5.56) (1991.44,5.28) (1991.68,5.0) (1991.92,4.58) (1992.17,4.19) (1992.41,3.73) (1992.65,3.57) (1992.89,3.29) (1993.14,3.23) (1993.38,3.03) (1993.62,2.8) (1993.87,2.61) (1994.11,2.83) (1994.35,3.18) (1994.60,3.42) (1994.84,3.65) (1995.08,3.6) (1995.32,3.54) (1995.57,3.7) (1995.81,3.85) (1996.05,3.57) (1996.30,4.04) (1996.54,4.11) (1996.78,4.35) (1997.02,4.53) (1997.27,4.58) (1997.51,4.32) (1997.75,3.8) (1998.00,3.34) (1998.24,3.03) (1998.48,2.92) (1998.72,2.64) (1998.89,2.2) (1999.13,2.64) (1999.37,2.87) (1999.62,3.29) (1999.86,3.54) (2000.10,3.88) (2000.34,4.16) (2000.59,4.43) (2000.83,4.66) (2001.07,4.27) (2001.32,3.42) (2001.56,2.56) (2001.80,2.1) (2002.04,2.33) (2002.29,3.03) (2002.53,3.42) (2002.77,3.88) (2003.02,3.65) (2003.26,3.57) (2003.50,3.96) (2003.74,4.04) (2003.99,4.58) (2004.23,4.81) (2004.47,4.89) (2004.72,4.84) (2004.96,5.12) (2005.20,5.05) (2005.45,5.0) (2005.69,5.05) (2005.93,5.12) (2006.17,5.2) (2006.42,5.36) (2006.66,5.56) (2006.90,5.71) (2007.15,5.51) (2007.39,5.36) (2007.63,5.05) (2007.87,4.97) (2008.12,4.74) (2008.36,4.19) (2008.60,3.88) (2008.77,1.86) (2008.93,-0.93) (2009.09,-3.34) (2009.25,-0.93) (2009.41,0.62) (2009.57,1.71) (2009.74,2.87) (2009.98,3.42) (2010.22,3.6) (2010.47,3.6) (2010.71,3.57) (2010.95,3.11) (2011.19,2.72) (2011.36,2.41) (2011.60,2.95) (2011.84,2.41) (2012.09,2.76) (2012.33,2.76) (2012.57,2.72) (2012.81,2.48) (2013.06,3.65) (2013.30,3.73) (2013.54,3.88) (2013.79,4.35) (2014.03,4.53) (2014.27,3.49) (2014.51,3.96) (2014.76,4.32) (2015.00,4.07) (2015.24,4.11) (2015.49,4.22) (2015.73,3.88) (2015.97,3.42) (2016.21,3.57) (2016.46,3.57) (2016.70,4.19) (2016.94,4.66) (2017.19,4.78) (2017.43,4.66) (2017.67,4.74) (2017.91,4.81) (2018.16,4.84) (2018.40,4.58) (2018.64,4.22) (2018.89,4.04) (2019.13,3.73) (2019.37,3.54) (2019.61,3.42) (2019.86,2.87) (2020.10,2.67) (2020.26,1.24) (2020.43,0.39) (2020.59,1.86) (2020.83,3.49) (2021.07,4.27) (2021.32,4.66) (2021.56,4.07) (2021.80,4.32) (2022.04,4.58) (2022.29,4.22) (2022.53,4.35) (2022.77,4.04) (2023.02,3.42) (2023.26,3.57) (2023.50,4.19) (2023.74,4.16) (2023.99,4.11) (2024.23,4.38) (2024.47,4.19) (2024.72,4.38) (2024.96,4.43) (2025.20,4.32) (2025.37,3.91)};
\end{axis}
\strip{292.5pt}{160.4pt}{総資本営業利益率(製造業)(\%)}

% ---------- Panel 12
\begin{axis}[panel, at={(554.75pt,160.4pt)}, ymin=-0.78, ymax=11.54,
 ytick={0,3,6,9}, yticklabels={0,3,6,9}, minor ytick={1.5,4.5,7.5,10.5}]
\addplot[ln] coordinates {(1975.00,11.04) (1975.08,9.28) (1975.25,9.77) (1975.42,9.14) (1975.59,9.56) (1975.76,9.66) (1975.93,9.28) (1976.10,8.72) (1976.27,9.0) (1976.44,9.21) (1976.61,9.0) (1976.78,9.21) (1976.95,8.79) (1977.12,8.36) (1977.28,7.66) (1977.45,6.95) (1977.62,6.88) (1977.79,6.6) (1977.96,6.67) (1978.13,6.64) (1978.30,6.7) (1978.47,6.74) (1978.64,6.67) (1978.81,6.6) (1978.98,6.88) (1979.15,7.52) (1979.31,8.01) (1979.48,7.8) (1979.65,8.29) (1979.82,8.79) (1979.99,8.58) (1980.16,10.06) (1980.33,8.58) (1980.50,8.79) (1980.67,8.93) (1980.84,9.28) (1981.01,8.86) (1981.18,8.72) (1981.35,8.29) (1981.51,8.72) (1981.68,8.5) (1981.85,8.22) (1982.02,7.73) (1982.19,8.01) (1982.36,8.36) (1982.53,8.36) (1982.70,8.15) (1982.87,7.59) (1983.04,7.66) (1983.21,7.45) (1983.38,7.59) (1983.54,7.66) (1983.71,7.52) (1983.88,7.16) (1984.05,7.38) (1984.22,7.24) (1984.39,7.16) (1984.56,6.95) (1984.73,6.81) (1984.90,7.24) (1985.07,6.88) (1985.24,6.74) (1985.41,6.98) (1985.58,6.67) (1985.74,7.16) (1985.91,6.39) (1986.08,4.56) (1986.25,4.84) (1986.42,5.26) (1986.59,5.75) (1986.76,5.4) (1986.93,4.98) (1987.10,4.27) (1987.27,3.85) (1987.44,5.26) (1987.61,6.74) (1987.78,5.4) (1987.94,4.13) (1988.11,4.84) (1988.28,5.33) (1988.45,5.97) (1988.62,5.4) (1988.79,4.56) (1988.96,4.98) (1989.13,5.19) (1989.30,5.4) (1989.47,4.98) (1989.64,5.47) (1989.81,5.68) (1989.97,6.88) (1990.14,7.16) (1990.31,7.02) (1990.48,7.66) (1990.65,8.29) (1990.82,6.39) (1990.99,6.81) (1991.16,6.46) (1991.33,6.81) (1991.50,6.46) (1991.67,5.97) (1991.84,5.83) (1992.01,5.54) (1992.17,5.83) (1992.34,5.54) (1992.51,5.12) (1992.68,4.91) (1992.85,4.84) (1993.02,4.06) (1993.19,4.98) (1993.36,4.56) (1993.53,3.99) (1993.70,3.36) (1993.87,4.27) (1994.04,4.34) (1994.20,4.06) (1994.37,4.56) (1994.54,4.98) (1994.71,4.7) (1994.88,4.63) (1995.05,3.57) (1995.22,2.93) (1995.39,3.22) (1995.56,2.93) (1995.73,3.36) (1995.90,3.5) (1996.07,3.15) (1996.24,3.29) (1996.40,3.0) (1996.57,2.86) (1996.74,2.51) (1996.91,2.58) (1997.08,2.72) (1997.25,2.44) (1997.42,2.23) (1997.59,2.16) (1997.76,2.02) (1997.93,1.81) (1998.10,1.88) (1998.27,1.73) (1998.43,1.31) (1998.60,0.75) (1998.77,0.89) (1998.94,2.02) (1999.11,1.59) (1999.28,1.88) (1999.45,1.73) (1999.62,1.88) (1999.79,1.66) (1999.96,1.81) (2000.30,1.88) (2000.63,1.59) (2000.97,1.24) (2001.31,1.24) (2001.65,1.31) (2001.99,1.52) (2002.33,1.34) (2002.66,1.03) (2003.00,0.75) (2003.17,0.54) (2003.34,0.75) (2003.51,1.45) (2003.85,1.24) (2004.19,1.59) (2004.36,1.81) (2004.70,1.52) (2005.03,1.31) (2005.37,1.24) (2005.71,1.52) (2006.05,1.81) (2006.22,1.95) (2006.56,1.66) (2006.90,1.59) (2007.23,1.73) (2007.40,1.88) (2007.74,1.66) (2008.08,1.59) (2008.25,1.73) (2008.59,1.31) (2008.93,1.24) (2009.26,1.31) (2009.43,1.42) (2009.77,1.34) (2010.11,1.24) (2010.45,1.03) (2010.62,0.89) (2010.96,1.24) (2011.29,1.03) (2011.63,0.89) (2011.97,0.82) (2012.31,0.78) (2012.65,0.61) (2012.99,0.54) (2013.16,0.75) (2013.49,0.63) (2013.83,0.54) (2014.17,0.39) (2014.51,0.32) (2014.68,0.25) (2015.02,0.21) (2015.19,0.39) (2015.52,0.32) (2015.86,0.07) (2016.20,-0.24) (2016.54,-0.1) (2016.88,0.07) (2017.22,0.07) (2017.55,0.04) (2017.89,0.01) (2018.23,0.01) (2018.57,0.11) (2018.91,-0.1) (2019.25,-0.13) (2019.58,-0.31) (2019.92,-0.1) (2020.26,0.04) (2020.60,0.07) (2020.94,0.16) (2021.28,0.04) (2021.62,0.01) (2021.95,0.18) (2022.29,0.21) (2022.63,0.25) (2022.80,0.47) (2022.97,0.54) (2023.14,0.39) (2023.31,0.68) (2023.48,0.89) (2023.82,0.61) (2024.15,1.03) (2024.49,0.89) (2024.83,1.24) (2025.17,1.52) (2025.51,1.62)};
\end{axis}
\strip{554.75pt}{160.4pt}{長期国債(10年)新発債流通利回り(\%)}

% ---------- Panel 13
\begin{axis}[panel, at={(39.05pt,56pt)}, ymin=-68.2, ymax=45.5,
 ytick={-50,-25,0,25}, yticklabels={-50,-25,0,25}, minor ytick={-62.5,-37.5,-12.5,12.5,37.5}]
\addplot[ln] coordinates {(1975.0,-16) (1975.1,-20) (1975.25,0) (1975.3,15) (1975.5,10) (1975.65,16) (1975.8,11) (1976.0,26) (1976.15,25) (1976.3,27) (1976.5,40) (1976.65,24) (1976.8,14) (1977.0,12) (1977.15,10) (1977.3,9) (1977.5,7) (1977.65,14) (1977.8,11) (1977.95,16) (1978.15,12) (1978.3,18) (1978.5,16) (1978.65,21) (1978.8,17) (1978.95,22) (1979.1,16) (1979.3,22) (1979.45,17) (1979.6,19) (1979.8,15) (1979.95,22) (1980.1,17) (1980.2,5) (1980.45,-1) (1980.6,4) (1980.75,0) (1980.9,4) (1981.1,2) (1981.25,10) (1981.45,12) (1981.6,9) (1981.75,15) (1981.9,7) (1982.1,-4) (1982.25,0) (1982.5,7) (1982.65,-2) (1982.85,-5) (1983.0,3) (1983.25,7) (1983.4,15) (1983.55,18) (1983.75,19) (1983.9,25) (1984.05,20) (1984.25,19) (1984.4,14) (1984.55,17) (1984.7,15) (1984.9,18) (1985.05,13) (1985.2,18) (1985.4,8) (1985.55,5) (1985.7,2) (1985.85,3) (1986.05,-2) (1986.2,2) (1986.35,-6) (1986.55,-2) (1986.7,-6) (1986.85,5) (1987.05,4) (1987.2,6) (1987.35,9) (1987.55,24) (1987.7,27) (1987.85,28) (1988.0,24) (1988.2,26) (1988.35,21) (1988.5,24) (1988.7,21) (1988.85,23) (1989.0,19) (1989.15,20) (1989.35,17) (1989.5,19) (1989.65,17) (1989.8,20) (1990.0,23) (1990.15,19) (1990.3,18) (1990.5,14) (1990.65,16) (1990.8,14) (1991.0,15) (1991.15,12) (1991.3,7) (1991.5,4) (1991.65,-4) (1991.8,-10) (1992.0,-13) (1992.15,-18) (1992.3,-11) (1992.5,-6) (1992.65,-13) (1992.8,-10) (1992.95,-12) (1993.15,-16) (1993.3,2) (1993.45,-15) (1993.6,-19) (1993.8,-13) (1993.95,-9) (1994.1,-3) (1994.3,3) (1994.45,5) (1994.6,10) (1994.8,11) (1994.95,13) (1995.1,7) (1995.25,0) (1995.45,-8) (1995.6,-4) (1995.75,4) (1995.9,10) (1996.1,6) (1996.25,9) (1996.4,8) (1996.6,13) (1996.75,18) (1996.9,17) (1997.1,9) (1997.15,-1) (1997.35,10) (1997.5,-5) (1997.65,-7) (1997.85,-15) (1998.0,-16) (1998.15,-27) (1998.3,-19) (1998.5,-24) (1998.65,-22) (1998.8,-17) (1998.95,-14) (1999.15,-6) (1999.3,-2) (1999.45,3) (1999.65,3) (1999.8,9) (2000.0,16) (2000.15,12) (2000.3,7) (2000.45,15) (2000.65,16) (2000.8,14) (2000.95,4) (2001.1,-7) (2001.3,-8) (2001.45,-14) (2001.6,-18) (2001.8,-24) (2001.95,-17) (2002.1,-8) (2002.3,-2) (2002.45,5) (2002.6,3) (2002.75,2) (2002.95,-3) (2003.1,-2) (2003.25,2) (2003.45,1) (2003.6,9) (2003.75,12) (2003.9,14) (2004.1,16) (2004.25,14) (2004.4,18) (2004.6,9) (2004.75,12) (2004.9,5) (2005.1,8) (2005.25,10) (2005.4,12) (2005.55,9) (2005.75,18) (2005.9,26) (2006.05,18) (2006.25,17) (2006.4,10) (2006.55,14) (2006.7,18) (2006.9,15) (2007.05,20) (2007.2,13) (2007.4,11) (2007.55,9) (2007.7,10) (2007.9,13) (2008.05,7) (2008.2,0) (2008.35,-5) (2008.55,-12) (2008.7,-22) (2008.85,-33) (2009.05,-42) (2009.2,-28) (2009.35,-12) (2009.55,-5) (2009.7,2) (2009.85,-2) (2010.0,3) (2010.2,7) (2010.35,3) (2010.5,7) (2010.7,-10) (2010.85,1) (2011.0,14) (2011.15,-23) (2011.35,-2) (2011.5,8) (2011.65,3) (2011.8,7) (2012.0,5) (2012.15,6) (2012.3,0) (2012.5,-10) (2012.65,-11) (2012.8,-14) (2013.0,-3) (2013.15,2) (2013.3,8) (2013.5,12) (2013.65,14) (2013.8,17) (2013.95,20) (2014.15,-12) (2014.3,3) (2014.45,13) (2014.65,5) (2014.8,1) (2014.95,7) (2015.1,3) (2015.3,7) (2015.45,0) (2015.6,4) (2015.8,1) (2015.95,-1) (2016.1,-3) (2016.3,-2) (2016.45,-5) (2016.6,-1) (2016.75,0) (2016.95,3) (2017.1,7) (2017.25,4) (2017.45,12) (2017.6,7) (2017.75,6) (2017.9,11) (2018.1,4) (2018.25,16) (2018.4,8) (2018.55,8) (2018.75,6) (2018.9,1) (2019.05,-3) (2019.25,-4) (2019.4,-7) (2019.6,-13) (2019.75,-17) (2019.9,-12) (2020.1,-22) (2020.25,-63) (2020.4,-40) (2020.55,-22) (2020.75,-7) (2020.9,-13) (2021.05,-3) (2021.2,4) (2021.4,8) (2021.55,-8) (2021.7,2) (2021.85,11) (2022.05,4) (2022.2,1) (2022.35,3) (2022.55,-3) (2022.7,-2) (2022.85,1) (2023.05,3) (2023.2,6) (2023.35,2) (2023.55,-1) (2023.7,1) (2023.85,-2) (2024.05,-1) (2024.2,3) (2024.35,-3) (2024.5,-5) (2024.7,0) (2024.85,-4) (2025.0,4) (2025.15,2) (2025.35,-6) (2025.5,-3) (2025.65,-3)};
\end{axis}
\strip{39.05pt}{56pt}{中小企業売上げ見通しDI}
\end{tikzpicture}
\end{document}
